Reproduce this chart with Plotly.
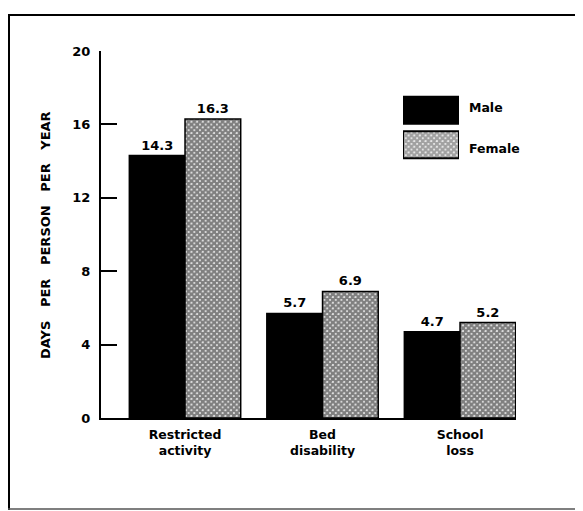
import plotly.graph_objects as go

categories = ["Restricted<br>activity", "Bed<br>disability", "School<br>loss"]
male = [14.3, 5.7, 4.7]
female = [16.3, 6.9, 5.2]
y_ticks = [0, 4, 8, 12, 16, 20]
series_names = ["Male", "Female"]

FONT = "DejaVu Sans"

# page body has an 8px margin: figure origin sits at (8, 8) of the screenshot
OFF = 8
W, H = 583 - OFF, 511 - OFF
# plot area in screenshot pixels: x 101..516, y 51..418
L, R, T, B = 101 - OFF, 516 - OFF, 51 - OFF, 418 - OFF


def px(x):
    return (x - OFF - L) / (R - L)


def py(y):
    return (B - (y - OFF)) / (B - T)


PATTERN = dict(shape="x", fgcolor="black", bgcolor="white", size=4,
               solidity=0.85, fillmode="overlay")

fig = go.Figure()
fig.add_trace(go.Bar(
    x=categories, y=male, name=series_names[0],
    marker=dict(color="black", line=dict(color="black", width=1.5)),
    text=[f"{v:.1f}" for v in male], textposition="outside",
    textfont=dict(family=FONT, size=13, color="black", weight="bold"),
    cliponaxis=False, showlegend=False,
))
fig.add_trace(go.Bar(
    x=categories, y=female, name=series_names[1],
    marker=dict(color="white", line=dict(color="black", width=1.5),
                pattern=PATTERN),
    text=[f"{v:.1f}" for v in female], textposition="outside",
    textfont=dict(family=FONT, size=13, color="black", weight="bold"),
    cliponaxis=False, showlegend=False,
))

# legend swatches drawn as bars on a small hidden axis pair
fig.add_trace(go.Bar(
    y=[series_names[1], series_names[0]], x=[1, 1], orientation="h",
    xaxis="x2", yaxis="y2", showlegend=False, hoverinfo="skip", width=0.78,
    marker=dict(color=["white", "black"],
                line=dict(color="black", width=2),
                pattern=dict(shape=["x", ""], fgcolor="black", bgcolor="white",
                             size=4, solidity=0.85, fillmode="overlay")),
))

shapes = []
# outer frame (top, left, bottom)
shapes.append(dict(type="line", xref="paper", yref="paper",
                   x0=px(7), x1=px(600), y0=py(15), y1=py(15),
                   line=dict(color="black", width=2)))
shapes.append(dict(type="line", xref="paper", yref="paper",
                   x0=px(9), x1=px(9), y0=py(15), y1=py(510),
                   line=dict(color="black", width=2)))
shapes.append(dict(type="line", xref="paper", yref="paper",
                   x0=px(7), x1=px(600), y0=py(509), y1=py(509),
                   line=dict(color="#555", width=1.5)))

annotations = [
    dict(text=series_names[0], xref="paper", yref="paper", x=px(467), y=py(108),
         xanchor="left", yanchor="middle", showarrow=False,
         font=dict(family=FONT, size=12.5, color="black", weight="bold")),
    dict(text=series_names[1], xref="paper", yref="paper", x=px(467), y=py(148),
         xanchor="left", yanchor="middle", showarrow=False,
         font=dict(family=FONT, size=12.5, color="black", weight="bold")),
    dict(text="DAYS   PER   PERSON   PER   YEAR", xref="paper", yref="paper",
         x=px(45), y=py(235), textangle=-90, xanchor="center", yanchor="middle",
         showarrow=False,
         font=dict(family=FONT, size=13, color="black", weight="bold")),
]

fig.update_layout(
    width=W, height=H,
    margin=dict(l=L, r=W - R, t=T, b=H - B, pad=0),
    paper_bgcolor="white", plot_bgcolor="white",
    barmode="group", bargap=0.19, bargroupgap=0,
    shapes=shapes, annotations=annotations,
    showlegend=False,
    xaxis=dict(
        type="category", range=[-0.611, 2.407],
        showline=True, linecolor="black", linewidth=2,
        ticks="", showgrid=False, zeroline=False,
        tickfont=dict(family=FONT, size=12.5, color="black", weight="bold"),
        ticklabelstandoff=4,
    ),
    yaxis=dict(
        range=[0, 20], tickvals=y_ticks, ticktext=[str(t) for t in y_ticks],
        showline=True, linecolor="black", linewidth=2,
        ticks="inside", ticklen=16, tickwidth=2, tickcolor="black",
        showgrid=False, zeroline=False,
        tickfont=dict(family=FONT, size=13, color="black", weight="bold"),
        ticklabelstandoff=6,
    ),
    xaxis2=dict(domain=[px(403), px(459)], range=[0, 1], anchor="y2",
                visible=False, fixedrange=True),
    yaxis2=dict(domain=[py(162), py(93)], range=[-0.5, 1.5], anchor="x2",
                type="category", categoryorder="array",
                categoryarray=[series_names[1], series_names[0]],
                visible=False, fixedrange=True),
)

fig.write_html("out.html")
